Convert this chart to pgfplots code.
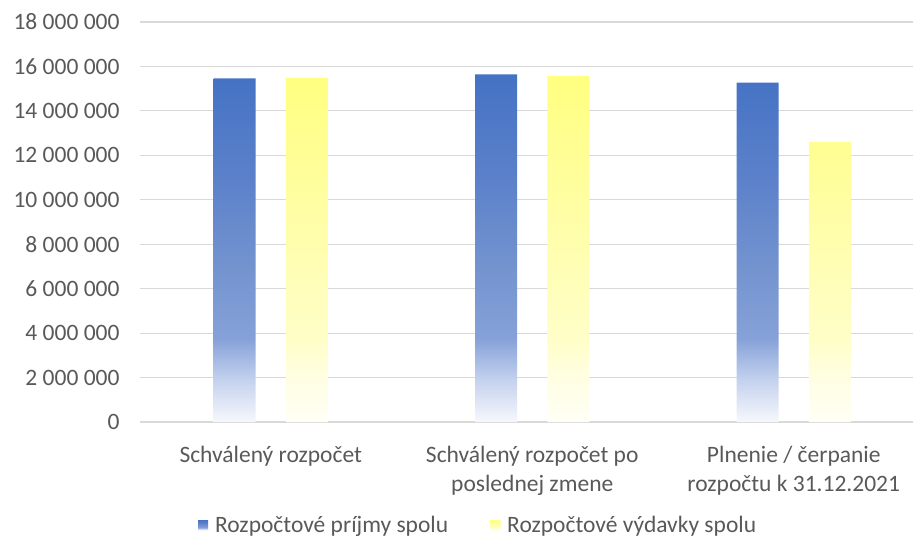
\documentclass[border=0pt]{standalone}
\usepackage{pgfplots}
\pgfplotsset{compat=1.18}
\usepackage{fontspec}
\setmainfont{Carlito}
\definecolor{txt}{HTML}{595959}
\definecolor{grd}{HTML}{D9D9D9}
\definecolor{bA}{HTML}{4472C4}
\definecolor{bB}{HTML}{5C81CA}
\definecolor{bC}{HTML}{7393CF}
\definecolor{bD}{HTML}{86A1D8}
\definecolor{bE}{HTML}{C5D2EE}
\definecolor{bF}{HTML}{F6F8FC}
\definecolor{yA}{HTML}{FFFF80}
\definecolor{yB}{HTML}{FFFE9C}
\definecolor{yC}{HTML}{FFFEB4}
\definecolor{yD}{HTML}{FFFEC8}
\definecolor{yE}{HTML}{FFFEE4}
\definecolor{yF}{HTML}{FFFFF6}
\pgfdeclareverticalshading{bshade}{100bp}{color(0bp)=(bF); color(25bp)=(bF); color(31bp)=(bE); color(37bp)=(bD); color(47.5bp)=(bC); color(60bp)=(bB); color(75bp)=(bA); color(100bp)=(bA)}
\pgfdeclareverticalshading{yshade}{100bp}{color(0bp)=(yF); color(25bp)=(yF); color(31bp)=(yE); color(37bp)=(yD); color(47.5bp)=(yC); color(60bp)=(yB); color(75bp)=(yA); color(100bp)=(yA)}
\newcommand{\fnt}{\fontsize{23.5bp}{29bp}\selectfont}
\begin{document}
\begin{tikzpicture}
\path[use as bounding box] (-140bp,-123bp) rectangle (773bp,422bp);
\begin{axis}[
  at={(0bp,0bp)}, anchor=south west,
  scale only axis, width=784.5bp, height=400bp,
  xmin=-0.5, xmax=2.5, ymin=0, ymax=18000000,
  ytick={0,2000000,4000000,6000000,8000000,10000000,12000000,14000000,16000000,18000000},
  scaled y ticks=false,
  ymajorgrids, grid style={grd, line width=1.2bp},
  axis line style={draw=none}, tick style={draw=none},
  /pgf/number format/assume math mode=true,
  yticklabel style={font=\fnt, text=txt, xshift=-17bp, /pgf/number format/fixed, /pgf/number format/1000 sep={\ }},
  xtick={0,1,2},
  xticklabels={Schválený rozpočet, {Schválený rozpočet po\\poslednej zmene}, {Plnenie / čerpanie\\rozpočtu k 31.12.2021}},
  xticklabel style={font=\fnt, text=txt, align=center, yshift=-21bp},
  legend style={at={(0.431,-0.2575)}, anchor=center, draw=none, fill=none, legend columns=2, font=\fnt, text=txt,
    /tikz/every odd column/.append style={column sep=5bp},
    /tikz/every even column/.append style={column sep=40bp}},
]
\addplot[ybar, bar width=0.16, bar shift=-0.138, draw=none, shading=bshade,
  legend image code/.code={\fill[bA] (0bp,-5bp) rectangle (10bp,5bp);}]
  coordinates {(0,15460000) (1,15640000) (2,15270000)};
\addlegendentry{Rozpočtové príjmy spolu}
\addplot[ybar, bar width=0.16, bar shift=0.138, draw=none, shading=yshade,
  legend image code/.code={\fill[yD] (0bp,-5bp) rectangle (10bp,5bp);}]
  coordinates {(0,15490000) (1,15570000) (2,12600000)};
\addlegendentry{Rozpočtové výdavky spolu}
\end{axis}
\end{tikzpicture}
\end{document}
